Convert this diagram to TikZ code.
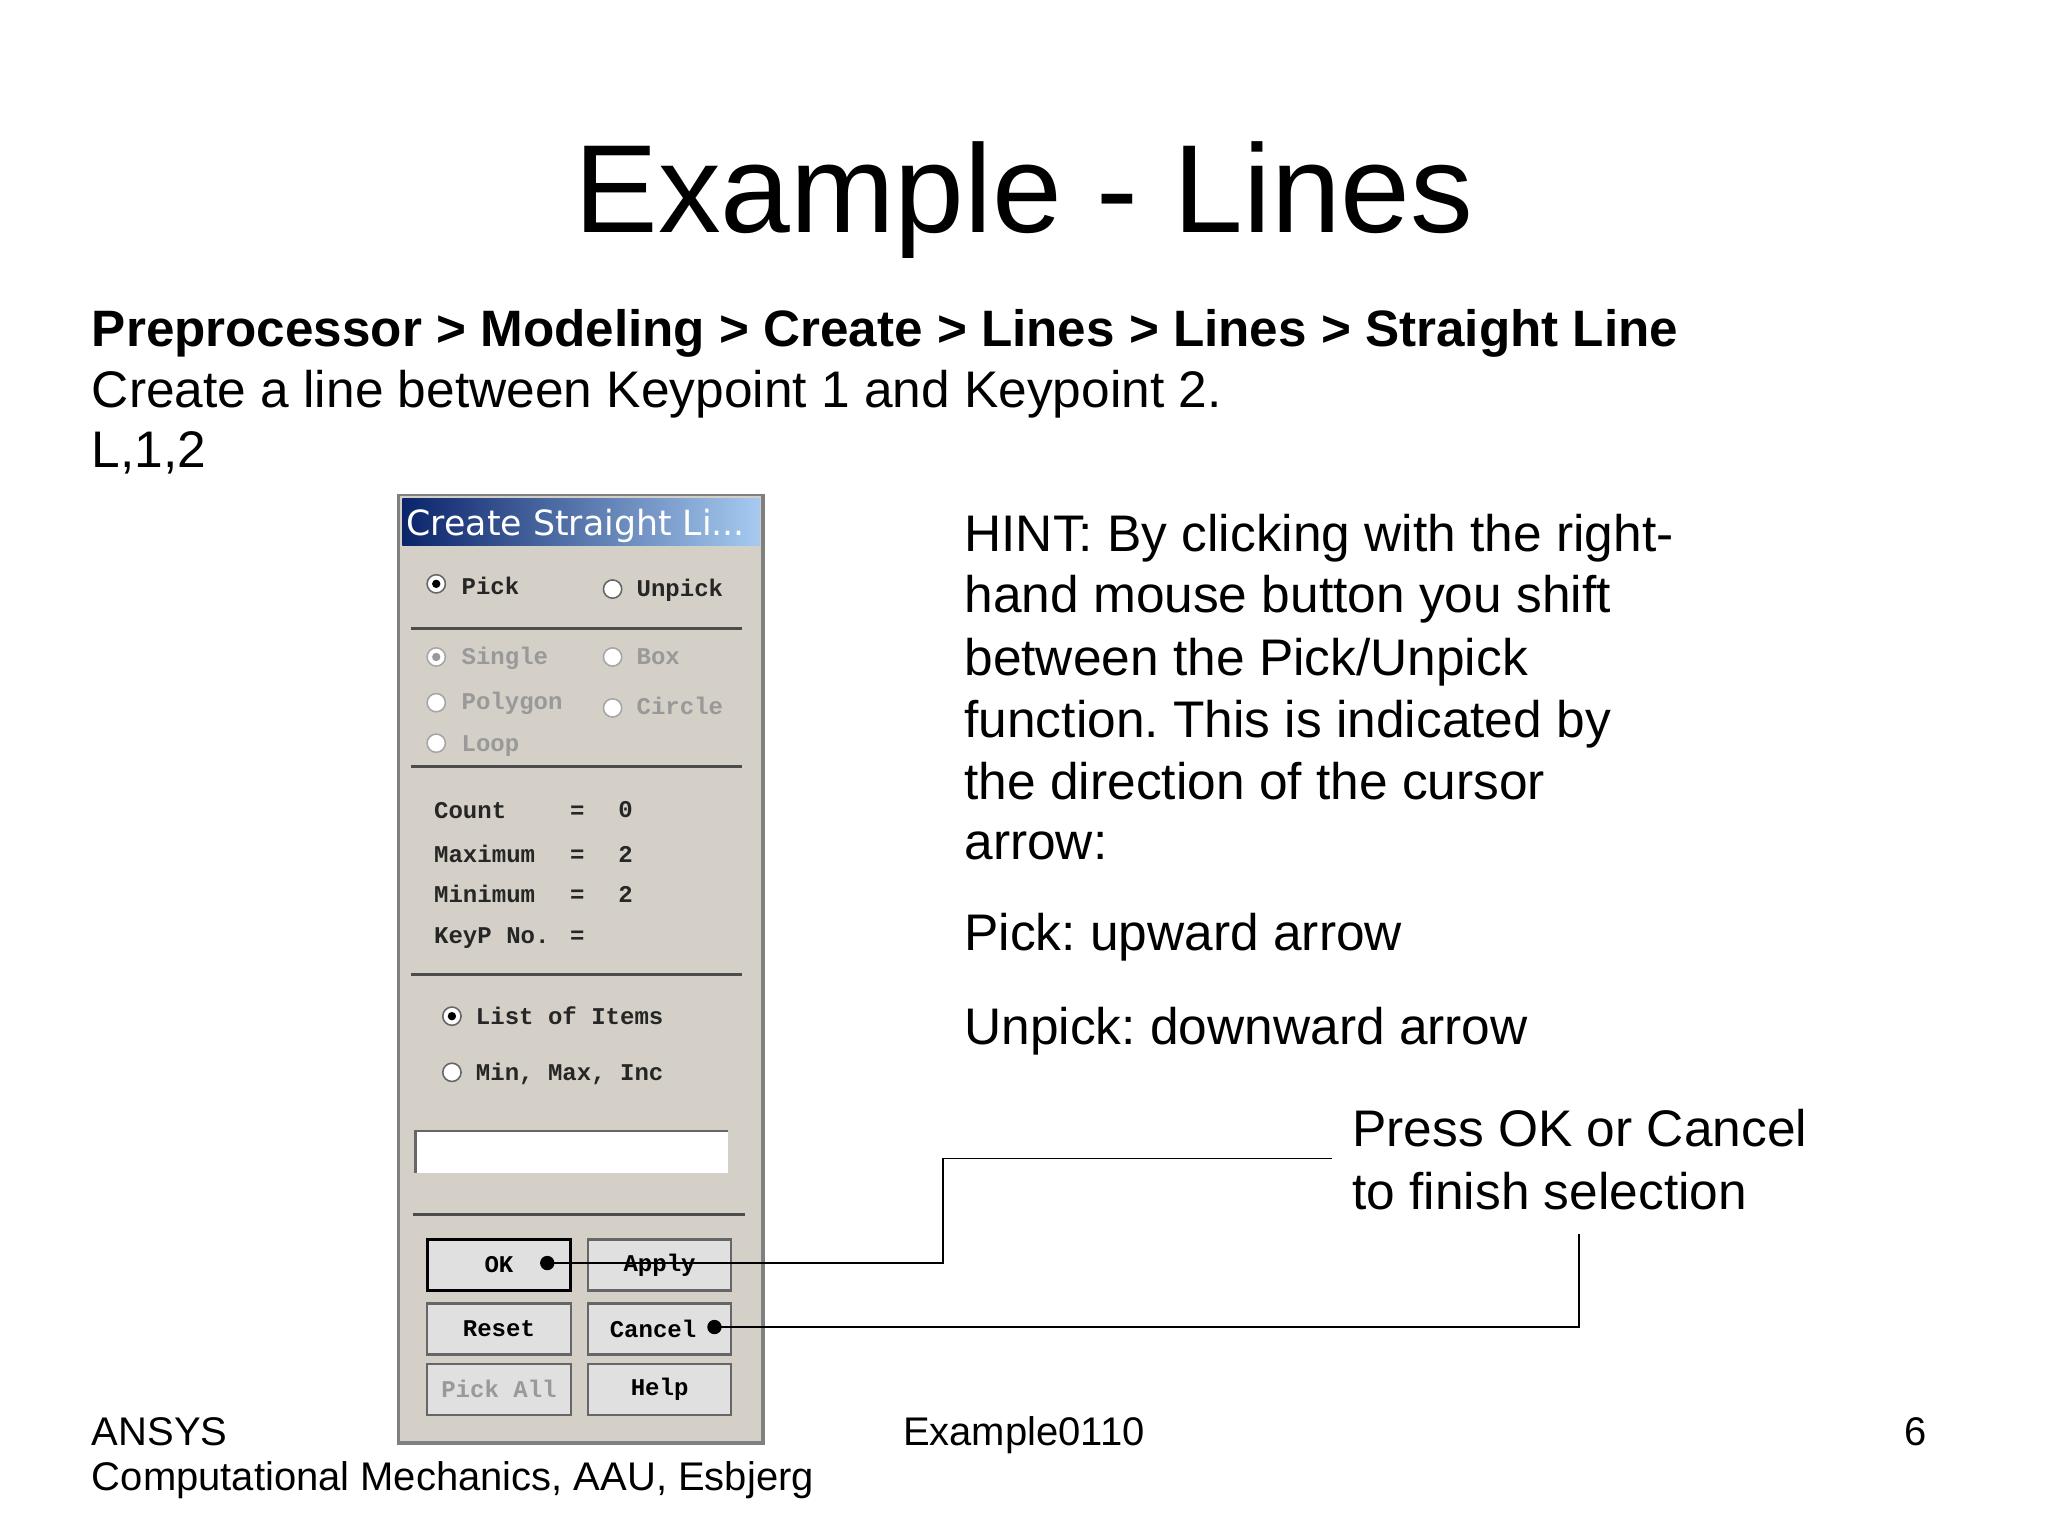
\documentclass[tikz,border=0pt]{standalone}
\usepackage{fontspec}
\setmainfont{Liberation Sans}
\newfontfamily\dlgfont{Liberation Mono}
\newfontfamily\ttlfont{DejaVu Sans}
\frenchspacing
\begin{document}
\begin{tikzpicture}[x=0.5pt,y=-0.5pt,
  txt/.style={anchor=base west,inner sep=0pt,font=\fontsize{19.7}{22}\selectfont},
  foot/.style={anchor=base west,inner sep=0pt,font=\fontsize{15.3}{17}\selectfont},
  dl/.style={anchor=base west,inner sep=0pt,font=\dlgfont\bfseries\fontsize{9.2}{10}\selectfont,text=black!85},
  dg/.style={dl,text=black!40},
  bt/.style={font=\dlgfont\bfseries\fontsize{9.2}{10}\selectfont},
  sep/.style={draw=black!70,line width=1.2pt},
  radio/.style={circle,draw=black!60,fill=white,line width=0.6pt,minimum size=7pt,inner sep=0pt},
  btn/.style={draw=black!60,fill=black!12,line width=0.8pt},
  conn/.style={draw=black,line width=0.6pt},
  dot/.style={circle,fill=black,minimum size=5.5pt,inner sep=0pt}]
\definecolor{dlgbg}{RGB}{212,208,200}
\useasboundingbox (0,0) rectangle (1568,1172);
\fill[white] (0,0) rectangle (1568,1172);
\node (title) at (784,178) [anchor=base,inner sep=0pt,font=\fontsize{48}{54}\selectfont] {Example - Lines};
\node (bc) at (70,265) [txt,font=\bfseries\fontsize{19.6}{22}\selectfont] {Preprocessor > Modeling > Create > Lines > Lines > Straight Line};
\node (l2) at (70,312) [txt] {Create a line between Keypoint 1 and Keypoint 2.};
\node (l3) at (70,358) [txt] {L,1,2};
% dialog
\fill[black!50] (304,378) rectangle (586,1106);
\fill[dlgbg] (306,380) rectangle (583,1103);
\shade[left color={rgb,255:red,10;green,36;blue,106}, right color={rgb,255:red,166;green,202;blue,240}] (308,382) rectangle (582,418);
\node (dt) at (311,410) [anchor=base west,inner sep=0pt,text=white,font=\ttlfont\fontsize{13.3}{15}\selectfont] {Create Straight Li...};
\node[radio] (rp) at (334,447) {}; \fill (rp) circle (1.6pt);
\node[dl] (tp) at (353,455) {Pick};
\node[radio] (ru) at (469,451) {};
\node[dl] (tu) at (487,457) {Unpick};
\draw[sep] (315,481) -- (568,481);
\node[radio,draw=black!35] (rs) at (334,503) {}; \fill[black!40] (rs) circle (1.6pt);
\node[dg] (ts) at (353,509) {Single};
\node[radio,draw=black!35] (rb) at (469,503) {};
\node[dg] (tb) at (487,509) {Box};
\node[radio,draw=black!35] (rpo) at (334,538) {};
\node[dg] (tpo) at (353,543) {Polygon};
\node[radio,draw=black!35] (rc) at (469,542) {};
\node[dg] (tc) at (487,547) {Circle};
\node[radio,draw=black!35] (rl) at (334,569) {};
\node[dg] (tl) at (353,575) {Loop};
\draw[sep] (315,587) -- (568,587);
\node[dl] (c1) at (332,627) {Count};   \node[dl] (e1) at (436,627) {=}; \node[dl] (v1) at (473,626) {0};
\node[dl] (c2) at (332,660) {Maximum}; \node[dl] (e2) at (436,660) {=}; \node[dl] (v2) at (473,660) {2};
\node[dl] (c3) at (332,691) {Minimum}; \node[dl] (e3) at (436,691) {=}; \node[dl] (v3) at (473,691) {2};
\node[dl] (c4) at (332,722) {KeyP No.}; \node[dl] (e4) at (436,722) {=};
\draw[sep] (315,746) -- (568,746);
\node[radio] (rli) at (346,778) {}; \fill (rli) circle (1.6pt);
\node[dl] (tli) at (364,784) {List of Items};
\node[radio] (rm) at (346,821) {};
\node[dl] (tm) at (364,827) {Min, Max, Inc};
\fill[white] (318,866) rectangle (557,898);
\draw[black!60,line width=1pt] (318,898) -- (318,866) -- (557,866);
\draw[sep] (316,930) -- (570,930);
\draw[btn,draw=black,line width=1.2pt] (327,949) rectangle (437,988);
\node[bt] (bok) at (382,968.5) {OK};
\draw[btn] (450,949) rectangle (560,988);
\node[bt] (bap) at (505,968.5) {Apply};
\draw[btn] (327,998) rectangle (437,1037);
\node[bt] (bre) at (382,1017.5) {Reset};
\draw[btn] (450,998) rectangle (560,1037);
\node[bt] (bca) at (500,1017.5) {Cancel};
\draw[btn] (327,1044) rectangle (437,1083);
\node[bt,text=black!40] (bpa) at (382,1063.5) {Pick All};
\draw[btn] (450,1044) rectangle (560,1083);
\node[bt] (bhe) at (505,1063.5) {Help};
% hint
\node (h1) at (738,422) [txt] {HINT: By clicking with the right-};
\node (h2) at (738,469) [txt] {hand mouse button you shift};
\node (h3) at (738,517) [txt] {between the Pick/Unpick};
\node (h4) at (738,565) [txt] {function. This is indicated by};
\node (h5) at (738,612) [txt] {the direction of the cursor};
\node (h6) at (738,658) [txt] {arrow:};
\node (h7) at (738,728) [txt] {Pick: upward arrow};
\node (h8) at (738,800) [txt] {Unpick: downward arrow};
\node (p1) at (1035,878) [txt] {Press OK or Cancel};
\node (p2) at (1035,926) [txt] {to finish selection};
% connectors
\node[dot] (dok) at (419,967) {};
\node[dot] (dca) at (547,1016) {};
\coordinate (k1) at (1020,887);
\coordinate (k2) at (1209,945);
\draw[conn] (dok.center) -- (722,967) -- (722,887) -- (k1);
\draw[conn] (dca.center) -- (1209,1016) -- (k2);
% footer
\node (f1) at (70,1107) [foot] {ANSYS};
\node (f2) at (70,1141) [foot] {Computational Mechanics, AAU, Esbjerg};
\node (f3) at (691,1107) [foot] {Example0110};
\node (f4) at (1458,1107) [foot] {6};
\end{tikzpicture}
\end{document}
